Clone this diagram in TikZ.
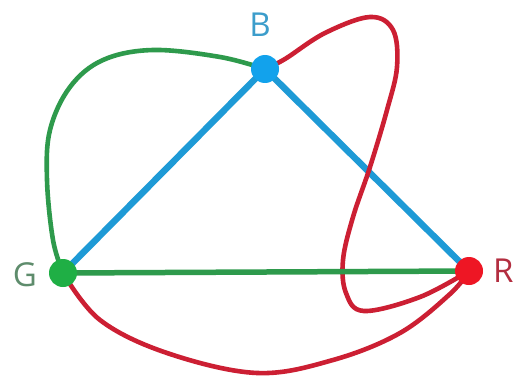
\documentclass[tikz,border=0pt]{standalone}
\usepackage{fontspec}
\setmainfont{Open Sans}
\definecolor{eblue}{HTML}{1E9AD6}
\definecolor{egreen}{HTML}{2E9A4C}
\definecolor{ered}{HTML}{CC1F33}
\definecolor{dblue}{HTML}{12A2EC}
\definecolor{dgreen}{HTML}{1FAF45}
\definecolor{dred}{HTML}{EE1624}
\definecolor{lblue}{HTML}{3C9DCB}
\definecolor{lgreen}{HTML}{5E8C6C}
\definecolor{lred}{HTML}{B32E40}
\tikzset{
  vdot/.style={circle,inner sep=0pt,minimum size=28pt},
  lab/.style={font=\fontsize{33}{33}\selectfont,inner sep=0pt},
  curve/.style={line width=4.6pt,line cap=round,line join=round},
}
\begin{document}
\begin{tikzpicture}[x=1pt,y=-1pt]
\useasboundingbox[fill=white] (0,0) rectangle (516,377);
\coordinate (B) at (265,69);
\coordinate (G) at (63,273);
\coordinate (R) at (469,271);
% blue edges
\draw[eblue,line width=6.5pt] (G) -- (B);
\draw[eblue,line width=6.5pt] (B) -- (R);
% green curve G-B
\draw[egreen,curve] plot[smooth,tension=0.6] coordinates {(G) (53,240) (47,180) (50,130) (70,87) (103,60) (153,50) (220,57) (B)};
% red loop B-R
\draw[ered,curve] plot[smooth,tension=0.6] coordinates {(B) (285,59) (325,33) (370,17) (393,30) (397,67) (387,110) (370,167) (353,217) (343,260) (346,293) (364,311) (420,297) (R)};
% red curve G-R
\draw[ered,curve] plot[smooth,tension=0.6] coordinates {(G) (100,320) (167,353) (257,373) (333,360) (400,333) (450,294) (R)};
% green straight
\draw[egreen,line width=5.5pt] (G) -- (R);
% dots
\node[vdot,fill=dblue] (Bd) at (B) {};
\node[vdot,fill=dgreen] (Gd) at (G) {};
\node[vdot,fill=dred] (Rd) at (R) {};
% labels
\node[lab,text=lblue] (Bl) at (260,25) {B};
\node[lab,text=lgreen] (Gl) at (25,275) {G};
\node[lab,text=lred,anchor=west] (Rl) at (493,271) {R};
\end{tikzpicture}
\end{document}
